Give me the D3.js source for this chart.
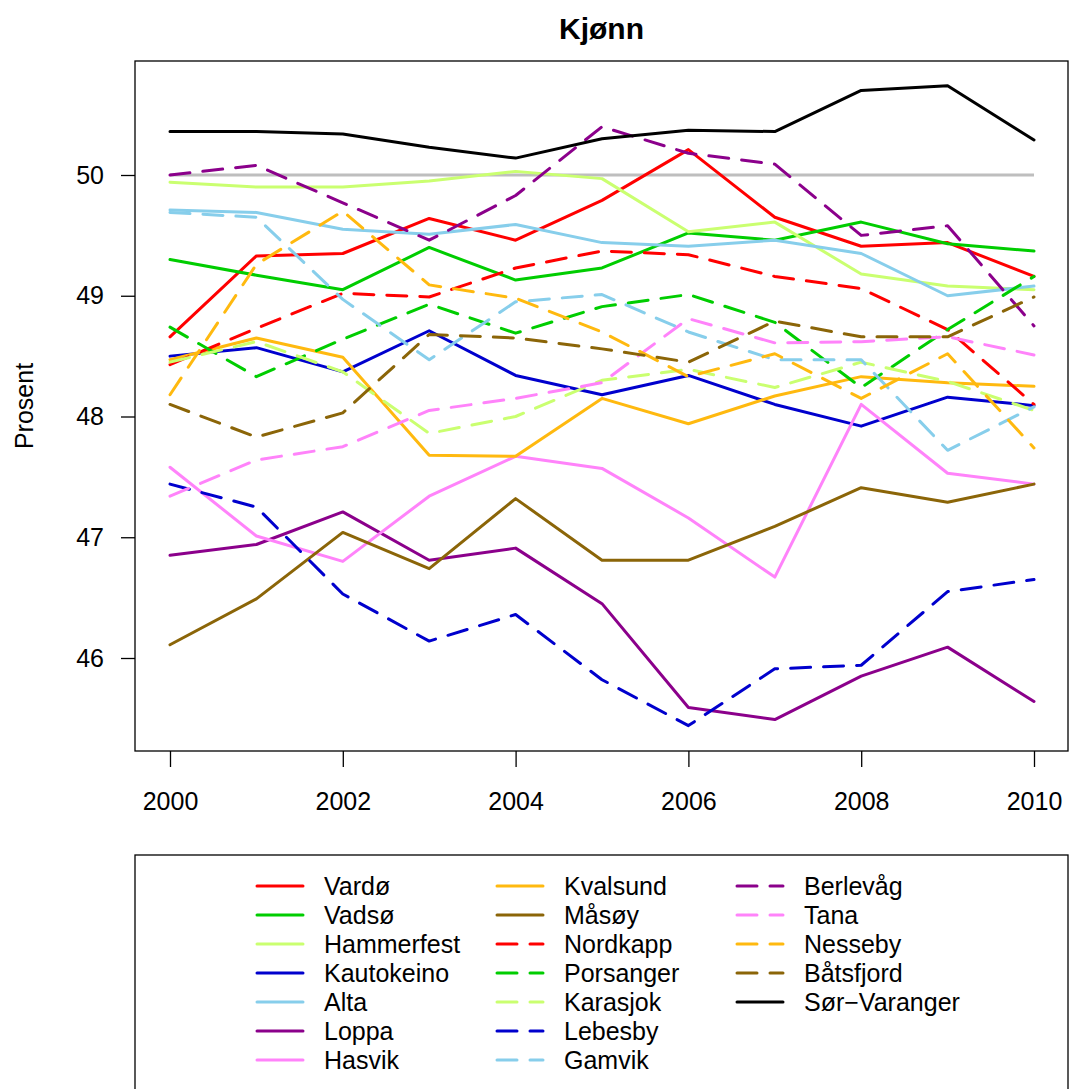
<!DOCTYPE html>
<html>
<head>
<meta charset="utf-8">
<script src="https://cdn.jsdelivr.net/npm/d3@7"></script>
<style>
  body { margin: 0; background: #fff; }
  svg text { font-family: "Liberation Sans", Arial, Helvetica, sans-serif; }
</style>
</head>
<body>
<div id="chart"></div>
<script>
// years on the x axis
var years = [2000, 2001, 2002, 2003, 2004, 2005, 2006, 2007, 2008, 2009, 2010];

// share (prosent) per kommune
var vardo       = [48.66, 49.33, 49.35, 49.64, 49.46, 49.79, 50.21, 49.65, 49.41, 49.44, 49.16];
var vadso       = [49.30, 49.17, 49.05, 49.40, 49.13, 49.23, 49.52, 49.46, 49.61, 49.43, 49.37];
var hammerfest  = [49.94, 49.90, 49.90, 49.95, 50.03, 49.97, 49.53, 49.61, 49.18, 49.08, 49.05];
var kautokeino  = [48.50, 48.57, 48.37, 48.71, 48.34, 48.18, 48.34, 48.10, 47.92, 48.16, 48.09];
var alta        = [49.71, 49.69, 49.55, 49.51, 49.59, 49.44, 49.41, 49.46, 49.35, 49.00, 49.08];
var loppa       = [46.85, 46.94, 47.21, 46.81, 46.91, 46.45, 45.59, 45.49, 45.85, 46.09, 45.64];
var hasvik      = [47.58, 47.01, 46.80, 47.34, 47.67, 47.57, 47.16, 46.67, 48.10, 47.53, 47.44];
var kvalsund    = [48.47, 48.65, 48.49, 47.68, 47.67, 48.15, 47.94, 48.17, 48.33, 48.28, 48.25];
var masoy       = [46.11, 46.49, 47.04, 46.74, 47.32, 46.81, 46.81, 47.09, 47.41, 47.29, 47.44];
var nordkapp    = [48.43, 48.73, 49.02, 48.99, 49.23, 49.37, 49.34, 49.16, 49.06, 48.72, 48.10];
var porsanger   = [48.74, 48.33, 48.64, 48.93, 48.69, 48.91, 49.01, 48.78, 48.24, 48.72, 49.16];
var karasjok    = [48.45, 48.62, 48.37, 47.86, 48.00, 48.30, 48.39, 48.24, 48.45, 48.29, 48.05];
var lebesby     = [47.44, 47.25, 46.53, 46.14, 46.36, 45.82, 45.44, 45.91, 45.94, 46.55, 46.65];
var gamvik      = [49.69, 49.65, 48.97, 48.47, 48.95, 49.01, 48.70, 48.47, 48.47, 47.72, 48.08];
var berlevag    = [50.00, 50.08, 49.77, 49.46, 49.83, 50.40, 50.18, 50.09, 49.50, 49.58, 48.75];
var tana        = [47.34, 47.64, 47.75, 48.05, 48.15, 48.28, 48.81, 48.61, 48.62, 48.66, 48.51];
var nesseby     = [48.18, 49.26, 49.70, 49.09, 48.98, 48.70, 48.33, 48.52, 48.15, 48.52, 47.74];
var batsfjord   = [48.10, 47.83, 48.03, 48.68, 48.65, 48.56, 48.45, 48.79, 48.66, 48.66, 48.99];
var sorVaranger = [50.36, 50.36, 50.34, 50.23, 50.14, 50.30, 50.37, 50.36, 50.70, 50.74, 50.29];

var names = ["Vardø", "Vadsø", "Hammerfest", "Kautokeino", "Alta", "Loppa", "Hasvik",
             "Kvalsund", "Måsøy", "Nordkapp", "Porsanger", "Karasjok", "Lebesby", "Gamvik",
             "Berlevåg", "Tana", "Nesseby", "Båtsfjord", "Sør\u2212Varanger"];
var values = [vardo, vadso, hammerfest, kautokeino, alta, loppa, hasvik,
              kvalsund, masoy, nordkapp, porsanger, karasjok, lebesby, gamvik,
              berlevag, tana, nesseby, batsfjord, sorVaranger];

// styles, same order as names
var colors = ["#FF0000", "#00CD00", "#CAFF70", "#0000CD", "#87CEEB", "#8B008B", "#FF83FA",
              "#FFB90F", "#8B6508", "#FF0000", "#00CD00", "#CAFF70", "#0000CD", "#87CEEB",
              "#8B008B", "#FF83FA", "#FFB90F", "#8B6508", "#000000"];
var dashed = [0, 0, 0, 0, 0, 0, 0, 0, 0, 1, 1, 1, 1, 1, 1, 1, 1, 1, 0];

var yTicks = [46, 47, 48, 49, 50];
var xTicks = [2000, 2002, 2004, 2006, 2008, 2010];
var refLine = 50;

var W = 1069, H = 1089;
var box = {left: 135, right: 1068, top: 61, bottom: 751};

var svg = d3.select("#chart").append("svg")
    .attr("width", W)
    .attr("height", H);

var x = d3.scaleLinear().domain([2000, 2010]).range([170, 1034]);
var y = d3.scaleLinear().domain([46, 50]).range([658, 175]);

// reference line at 50 %
svg.append("line")
    .attr("x1", x(2000)).attr("x2", x(2010))
    .attr("y1", y(refLine)).attr("y2", y(refLine))
    .attr("stroke", "#BEBEBE")
    .attr("stroke-width", 3);

var line = d3.line()
    .x(function(d, i) { return x(years[i]); })
    .y(function(d) { return y(d); });

for (var i = 0; i < values.length; i++) {
    svg.append("path")
        .datum(values[i])
        .attr("d", line)
        .attr("fill", "none")
        .attr("stroke", colors[i])
        .attr("stroke-width", 3)
        .attr("stroke-linecap", "round")
        .attr("stroke-linejoin", "round")
        .attr("stroke-dasharray", dashed[i] ? "20,13" : null);
}

// box round the plot
svg.append("rect")
    .attr("x", box.left).attr("y", box.top)
    .attr("width", box.right - box.left)
    .attr("height", box.bottom - box.top)
    .attr("fill", "none")
    .attr("stroke", "#000")
    .attr("stroke-width", 1.3);

var xAxis = svg.append("g")
    .attr("transform", "translate(0," + box.bottom + ")")
    .call(d3.axisBottom(x).tickValues(xTicks).tickFormat(d3.format("d"))
        .tickSize(16).tickSizeOuter(0).tickPadding(25));
xAxis.select(".domain").remove();
xAxis.selectAll("line").attr("stroke-width", 1.3);
xAxis.selectAll("text")
    .style("font-family", "Liberation Sans, Arial, sans-serif")
    .style("font-size", "25px")
    .attr("fill", "#000");

var yAxis = svg.append("g")
    .attr("transform", "translate(" + box.left + ",0)")
    .call(d3.axisLeft(y).tickValues(yTicks).tickFormat(d3.format("d"))
        .tickSize(14).tickSizeOuter(0).tickPadding(17));
yAxis.select(".domain").remove();
yAxis.selectAll("line").attr("stroke-width", 1.3);
yAxis.selectAll("text")
    .style("font-family", "Liberation Sans, Arial, sans-serif")
    .style("font-size", "25px")
    .attr("fill", "#000");

svg.append("text")
    .attr("x", (box.left + box.right) / 2)
    .attr("y", 38.5)
    .attr("text-anchor", "middle")
    .style("font-size", "30px")
    .style("font-weight", "bold")
    .text("Kjønn");

svg.append("text")
    .attr("transform", "translate(33," + ((box.top + box.bottom) / 2) + ") rotate(-90)")
    .attr("text-anchor", "middle")
    .style("font-size", "25px")
    .text("Prosent");

// legend
var lg = {top: 855, rowH: 29, firstRow: 886, colX: [257, 497, 737], lineLen: 46, textGap: 21};
svg.append("rect")
    .attr("x", box.left).attr("y", lg.top)
    .attr("width", box.right - box.left)
    .attr("height", 260)
    .attr("fill", "none")
    .attr("stroke", "#000")
    .attr("stroke-width", 1.3);

for (var k = 0; k < names.length; k++) {
    var col = Math.floor(k / 7), row = k % 7;
    var ly = lg.firstRow + row * lg.rowH;
    var lx = lg.colX[col];
    svg.append("line")
        .attr("x1", lx).attr("x2", lx + lg.lineLen)
        .attr("y1", ly).attr("y2", ly)
        .attr("stroke", colors[k])
        .attr("stroke-width", 3)
        .attr("stroke-linecap", "round")
        .attr("stroke-dasharray", dashed[k] ? "20,13" : null);
    svg.append("text")
        .attr("x", lx + lg.lineLen + lg.textGap)
        .attr("y", ly)
        .attr("dy", "0.35em")
        .style("font-size", "25px")
        .text(names[k]);
}
</script>
</body>
</html>
